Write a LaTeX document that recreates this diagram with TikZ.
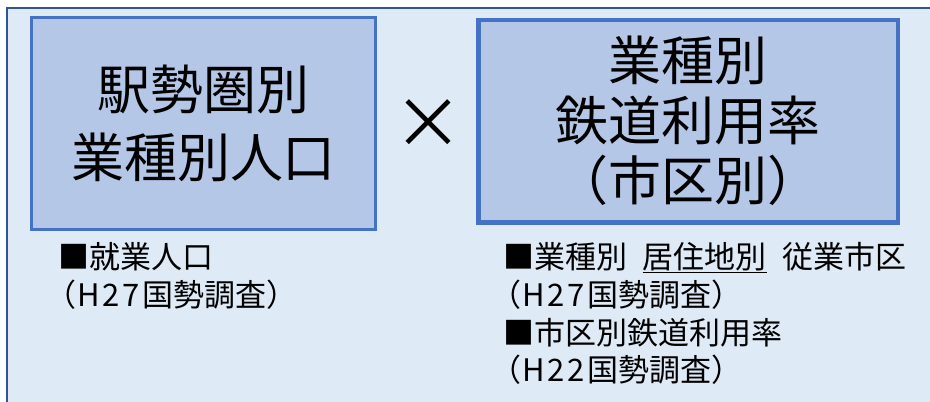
\documentclass[tikz,border=0pt]{standalone}
\usepackage{fontspec}
\setmainfont{Noto Sans CJK JP}
\definecolor{bgfill}{HTML}{DEEBF7}
\definecolor{frame}{HTML}{2F5597}
\definecolor{boxfill}{HTML}{B4C7E7}
\definecolor{boxline}{HTML}{4472C4}
\newcommand{\lparen}{\hspace{-0.42em}（\hspace{0.05em}}
\newcommand{\hyear}[2]{H\hspace{0.08em}#1\hspace{0.08em}#2\hspace{0.08em}}
\begin{document}
\begin{tikzpicture}[x=1pt,y=-1pt,
  bigbox/.style={fill=boxfill, draw=boxline, inner sep=0pt, align=center},
  note/.style={anchor=north west, inner sep=0pt, align=left, font=\fontsize{31}{37.8}\selectfont}]
\useasboundingbox (0,0) rectangle (930,402);
\clip (0,0) rectangle (930,402);
\path[fill=bgfill, draw=frame, line width=2.5pt] (7,8) rectangle (945,415);
\node[bigbox, line width=3pt, minimum width=344pt, minimum height=211.5pt,
      font=\fontsize{53}{68}\selectfont] (L) at (203.5,123.25) {駅勢圏別\\業種別人口};
\node[bigbox, line width=4.5pt, minimum width=419.5pt, minimum height=202.5pt,
      font=\fontsize{53}{60}\selectfont] (R) at (688.25,121.25) {業種別\\鉄道利用率\\（市区別）};
\node[inner sep=0pt, font=\fontsize{70}{70}\selectfont] (X) at (428,124) {×};
\node[note] (NL) at (58,242) {■就業人口\\\lparen\hyear{2}{7}国勢調査）};
\node[note] (NR) at (503,242) {■業種別\hspace{0.5em}\underline{居住地別}\hspace{0.5em}従業市区\\\lparen\hyear{2}{7}国勢調査）\\■市区別鉄道利用率\\\lparen\hyear{2}{2}国勢調査）};
\end{tikzpicture}
\end{document}
